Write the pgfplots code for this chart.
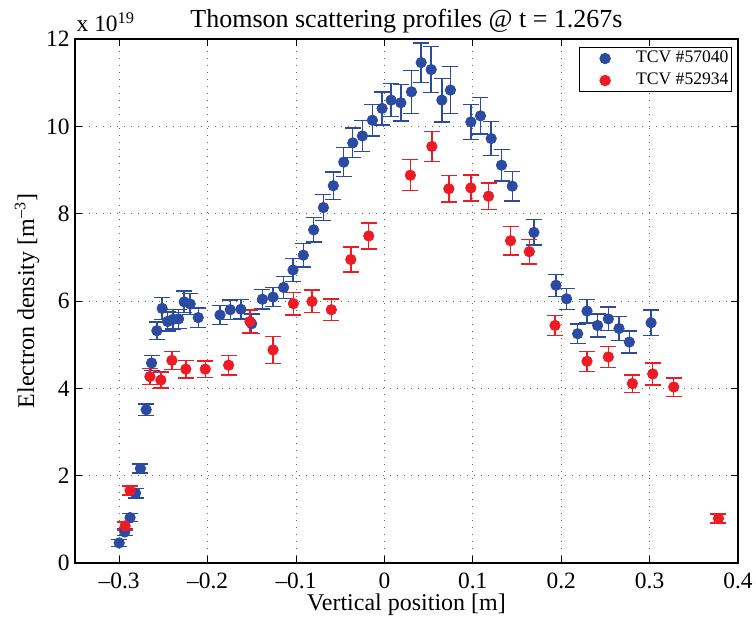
\documentclass[border=0pt]{standalone}
\usepackage{pgfplots}
\pgfplotsset{compat=1.18}
\usepackage{fontspec}
\setmainfont{Liberation Serif}

\definecolor{tcvblue}{RGB}{43,75,163}
\definecolor{tcvred}{RGB}{237,28,36}

\begin{document}
\begin{tikzpicture}
  \begin{axis}[
    name = ax,
    scale only axis,
    width = 331.5pt,
    height = 262pt,
    clip = false,
    xmin = -0.35, xmax = 0.4,
    ymin = 0, ymax = 12,
    xtick = {-0.3,-0.2,...,0.4},
    xticklabels = {–0.3,–0.2,–0.1,0,0.1,0.2,0.3,0.4},
    ytick = {0,2,...,12},
    /pgf/number format/assume math mode=true,
    tick align = inside,
    major tick length = 3.5pt,
    tick style = {black, line width=0.5pt},
    axis line style = {line width=0.65pt},
    grid = major,
    major grid style = {dash pattern=on 0.5pt off 3pt, black!60, line width=0.5pt},
    ticklabel style = {font=\fontsize{11.7}{13}\selectfont},
    xticklabel style = {anchor=base, yshift=-12.5pt},
    yticklabel style = {inner sep=0pt, xshift=-2.5pt},
    xlabel = {Vertical position [m]},
    ylabel = {Electron density [m\textsuperscript{–3}]},
    label style = {font=\fontsize{12}{14}\selectfont},
    xlabel style = {at={(axis description cs:0.5,-0.0897)}, anchor=base},
    ylabel style = {at={(axis description cs:-0.0618,0.5)}, anchor=base},
    legend style = {font=\fontsize{8.8}{10}\selectfont, draw=black, line width=0.5pt,
      at={(axis description cs:0.991,0.9847)}, anchor=north east,
      inner sep=0pt, nodes={inner sep=1.5pt}, row sep=0pt},
    legend cell align = left,
    legend image code/.code={
      \path[draw=none, fill=none] (0pt,-5.5pt) rectangle (27pt,5.5pt);
      \draw[#1] plot coordinates {(13pt,0pt)};
    },
  ]
    \addplot[only marks, mark=*, mark size=2.6pt, color=tcvblue,
      error bars/.cd, y dir=both, y explicit,
      error bar style={line width=0.7pt, tcvblue},
      error mark options={mark size=4pt, line width=0.7pt, tcvblue, rotate=90}]
      table[x=x, y=y, y error=e] {
      x y e
      -0.300 0.46 0.08
      -0.2937 0.71 0.08
      -0.2877 1.04 0.09
      -0.2815 1.60 0.11
      -0.276 2.165 0.10
      -0.2695 3.51 0.13
      -0.2634 4.58 0.17
      -0.2574 5.32 0.20
      -0.2514 5.83 0.25
      -0.2453 5.53 0.22
      -0.239 5.58 0.22
      -0.2328 5.59 0.22
      -0.2265 5.98 0.25
      -0.2197 5.93 0.24
      -0.2106 5.62 0.22
      -0.186 5.68 0.22
      -0.1744 5.80 0.22
      -0.1623 5.81 0.22
      -0.1502 5.48 0.22
      -0.138 6.04 0.22
      -0.126 6.09 0.22
      -0.114 6.31 0.25
      -0.1034 6.71 0.26
      -0.0917 7.05 0.27
      -0.080 7.63 0.28
      -0.069 8.14 0.30
      -0.0578 8.64 0.31
      -0.046 9.18 0.33
      -0.0358 9.62 0.34
      -0.0249 9.78 0.35
      -0.0136 10.14 0.36
      -0.0026 10.41 0.38
      0.0076 10.60 0.38
      0.0186 10.54 0.42
      0.0306 10.79 0.49
      0.0416 11.46 0.45
      0.0529 11.30 0.53
      0.065 10.60 0.50
      0.0747 10.83 0.54
      0.0978 10.10 0.40
      0.1087 10.24 0.42
      0.1208 9.72 0.39
      0.1325 9.11 0.36
      0.1446 8.63 0.34
      0.1692 7.57 0.29
      0.1941 6.36 0.25
      0.2061 6.05 0.24
      0.2186 5.25 0.22
      0.2292 5.77 0.27
      0.2412 5.44 0.26
      0.2533 5.59 0.27
      0.2654 5.37 0.28
      0.2771 5.06 0.25
      0.3017 5.50 0.29
    };
    \addlegendentry{TCV \#57040}
    \addplot[only marks, mark=*, mark size=2.6pt, color=tcvred,
      error bars/.cd, y dir=both, y explicit,
      error bar style={line width=0.7pt, tcvred},
      error mark options={mark size=4pt, line width=0.7pt, tcvred, rotate=90}]
      table[x=x, y=y, y error=e] {
      x y e
      -0.2933 0.85 0.09
      -0.2877 1.66 0.10
      -0.2653 4.27 0.18
      -0.2529 4.19 0.18
      -0.2404 4.64 0.21
      -0.2246 4.44 0.20
      -0.2027 4.44 0.19
      -0.1762 4.53 0.22
      -0.1521 5.53 0.26
      -0.126 4.88 0.31
      -0.103 5.94 0.26
      -0.0819 5.99 0.26
      -0.060 5.80 0.25
      -0.038 6.95 0.29
      -0.0177 7.49 0.30
      0.0294 8.88 0.355
      0.0537 9.54 0.34
      0.0729 8.57 0.30
      0.0978 8.59 0.30
      0.1178 8.40 0.30
      0.1427 7.38 0.33
      0.1639 7.13 0.28
      0.193 5.44 0.23
      0.2292 4.62 0.23
      0.2533 4.72 0.24
      0.2805 4.11 0.20
      0.3035 4.33 0.25
      0.3273 4.03 0.21
      0.3779 1.02 0.10
    };
    \addlegendentry{TCV \#52934}
    \node[anchor=base west, inner sep=0pt, font=\fontsize{11.7}{13}\selectfont]
      at (axis description cs:0.002,1.0134) {x 10\textsuperscript{19}};
    \node[anchor=base, inner sep=0pt, font=\fontsize{13}{15}\selectfont]
      at (axis description cs:0.5,1.021) {Thomson scattering profiles @ t = 1.267s};
  \end{axis}
  \pgfresetboundingbox
  \path ([xshift=-37.5pt,yshift=-29pt]ax.south west)
    rectangle ([xshift=9pt,yshift=19.5pt]ax.north east);
\end{tikzpicture}
\end{document}
